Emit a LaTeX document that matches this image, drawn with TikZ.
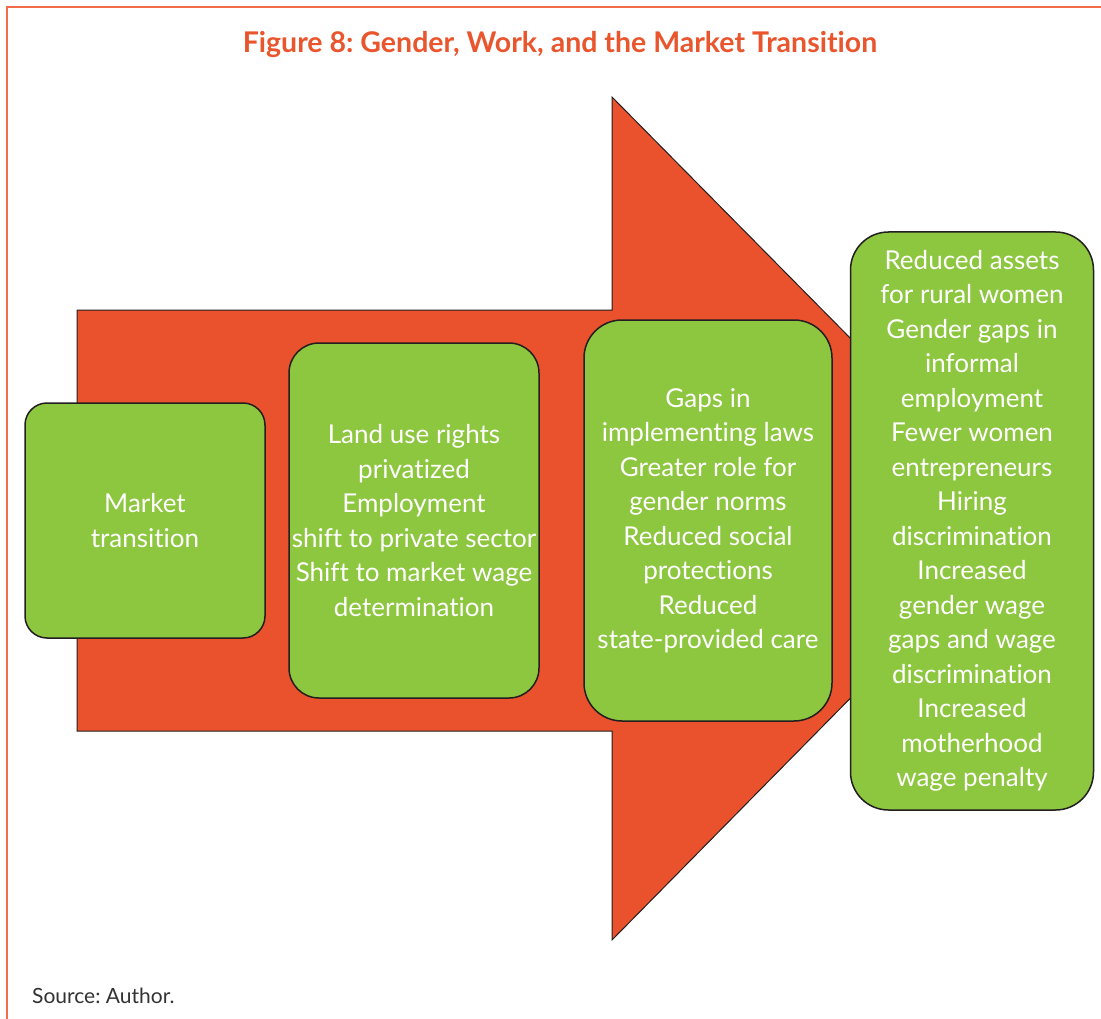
\documentclass[tikz,border=0pt]{standalone}
\usepackage{fontspec}
\setmainfont{Lato}[Ligatures=NoCommon]
\frenchspacing
\definecolor{arrowred}{HTML}{E9522C}
\definecolor{boxgreen}{HTML}{8DC63F}
\definecolor{frameorange}{HTML}{F26B4B}
\definecolor{edgedark}{HTML}{231F20}
\definecolor{titleorange}{HTML}{E9552D}
\definecolor{sourcegray}{HTML}{333333}
\begin{document}
\begin{tikzpicture}[x=1pt,y=-1pt,
  greenbox/.style={draw=edgedark, line width=1.5pt, fill=boxgreen, text=white,
    align=center, inner sep=0pt, font=\fontsize{26}{34.5}\selectfont},
  bigarrow/.style={draw=edgedark, line width=1pt, fill=arrowred, line join=miter},
  frameline/.style={draw=frameorange, line width=1.2pt},
]
\useasboundingbox (0,0) rectangle (1101,1019);
% frame
\draw[frameline] (7,1019) -- (7,7) -- (1101,7);
% title
\node[font=\fontsize{28.5}{32}\bfseries\selectfont\frenchspacing, text=titleorange] (title) at (560,44)
  {Figure 8: Gender, Work, and the Market Transition};
% big arrow
\draw[bigarrow] (77,310) -- (612,310) -- (612,97) -- (1028,518) -- (612,940)
  -- (612,731) -- (77,731) -- cycle;
% boxes
\node[greenbox, minimum width=240pt, minimum height=235pt, rounded corners=22pt] (b1) at (145,520.5)
  {Market\\transition};
\node[greenbox, minimum width=250pt, minimum height=355pt, rounded corners=30pt] (b2) at (414,520.5)
  {Land use rights\\privatized\\Employment\\shift to private sector\\Shift to market wage\\determination};
\node[greenbox, minimum width=248pt, minimum height=401pt, rounded corners=38pt] (b3) at (708,520.5)
  {Gaps in\\implementing laws\\Greater role for\\gender norms\\Reduced social\\protections\\Reduced\\state-provided care};
\node[greenbox, minimum width=243pt, minimum height=578pt, rounded corners=38pt] (b4) at (972,521)
  {Reduced assets\\for rural women\\Gender gaps in\\informal\\employment\\Fewer women\\entrepreneurs\\Hiring\\discrimination\\Increased\\gender wage\\gaps and wage\\discrimination\\Increased\\motherhood\\wage penalty};
% source
\node[anchor=base west, inner sep=0pt, font=\fontsize{21}{25}\selectfont\frenchspacing, text=sourcegray] (src) at (32,1003)
  {Source: Author.};
\end{tikzpicture}
\end{document}
